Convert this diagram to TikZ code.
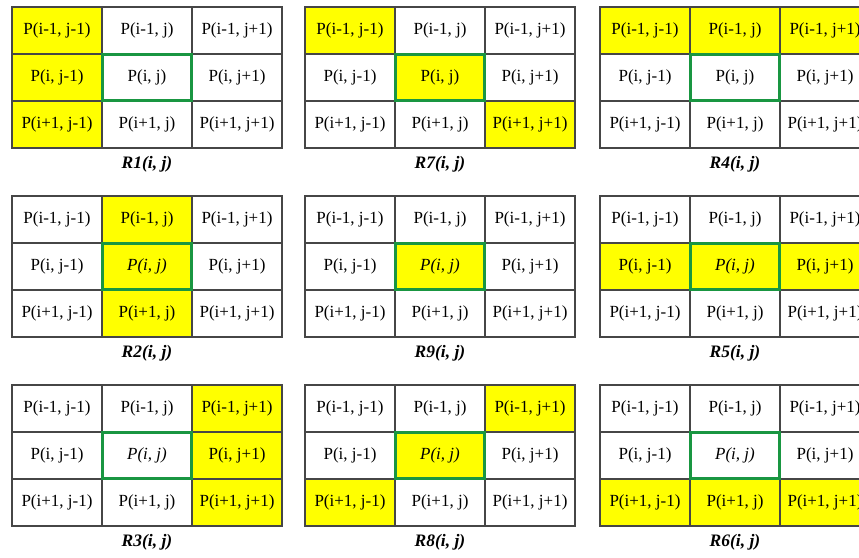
\documentclass[tikz,border=0pt]{standalone}
\usepackage{fontspec}
\setmainfont{Liberation Serif}
\definecolor{gridline}{RGB}{70,70,70}
\definecolor{boxgreen}{RGB}{25,150,65}
\definecolor{hl}{RGB}{255,255,0}
\tikzset{
  cellnode/.style={draw=gridline, line width=1.2pt, minimum width=90pt, minimum height=47pt, inner sep=0pt, font=\fontsize{17}{20}\selectfont},
  greenbox/.style={draw=boxgreen, line width=2.7pt},
  reglabel/.style={font=\fontsize{17.5}{20}\selectfont\bfseries\itshape},
}
% #1 name, #2 x0, #3 y0, #4 label, #5 centre text, #6 yellow cells r/c
\newcommand\mygrid[6]{%
  \foreach \r/\c in {#6} {\fill[hl] ({#2+90*\c},{#3+47*\r}) rectangle +(90,47);}
  \foreach \r/\rl in {0/i-1,1/i,2/i+1} {
    \foreach \c/\cl in {0/j-1,1/j,2/j+1} {
      \node[cellnode] (#1-\r\c) at ({#2+90*\c+45},{#3+47*\r+23.5})
        {\ifnum\r\c=11 #5\else P(\rl, \cl)\fi};
    }
  }
  \draw[greenbox] ([shift={(1.3,1.3)}]#1-11.north west) rectangle ([shift={(-1.3,-1.3)}]#1-11.south east);
  \node[reglabel] (#1-lab) at ({#2+135},{#3+157}) {#4};
}
\begin{document}
\begin{tikzpicture}[x=1pt,y=-1pt]
\useasboundingbox (0,0) rectangle (859,557);
\clip (0,0) rectangle (859,557);
\fill[white] (0,0) rectangle (859,557);
\mygrid{r1}{12}{7}{R1(i, j)}{P(i, j)}{0/0,1/0,2/0}
\mygrid{r7}{305}{7}{R7(i, j)}{P(i, j)}{0/0,1/1,2/2}
\mygrid{r4}{600}{7}{R4(i, j)}{P(i, j)}{0/0,0/1,0/2}
\mygrid{r2}{12}{196}{R2(i, j)}{\textit{P(i, j)}}{0/1,1/1,2/1}
\mygrid{r9}{305}{196}{R9(i, j)}{\textit{P(i, j)}}{1/1}
\mygrid{r5}{600}{196}{R5(i, j)}{\textit{P(i, j)}}{1/0,1/1,1/2}
\mygrid{r3}{12}{385}{R3(i, j)}{\textit{P(i, j)}}{0/2,1/2,2/2}
\mygrid{r8}{305}{385}{R8(i, j)}{\textit{P(i, j)}}{0/2,1/1,2/0}
\mygrid{r6}{600}{385}{R6(i, j)}{\textit{P(i, j)}}{2/0,2/1,2/2}
\end{tikzpicture}
\end{document}
